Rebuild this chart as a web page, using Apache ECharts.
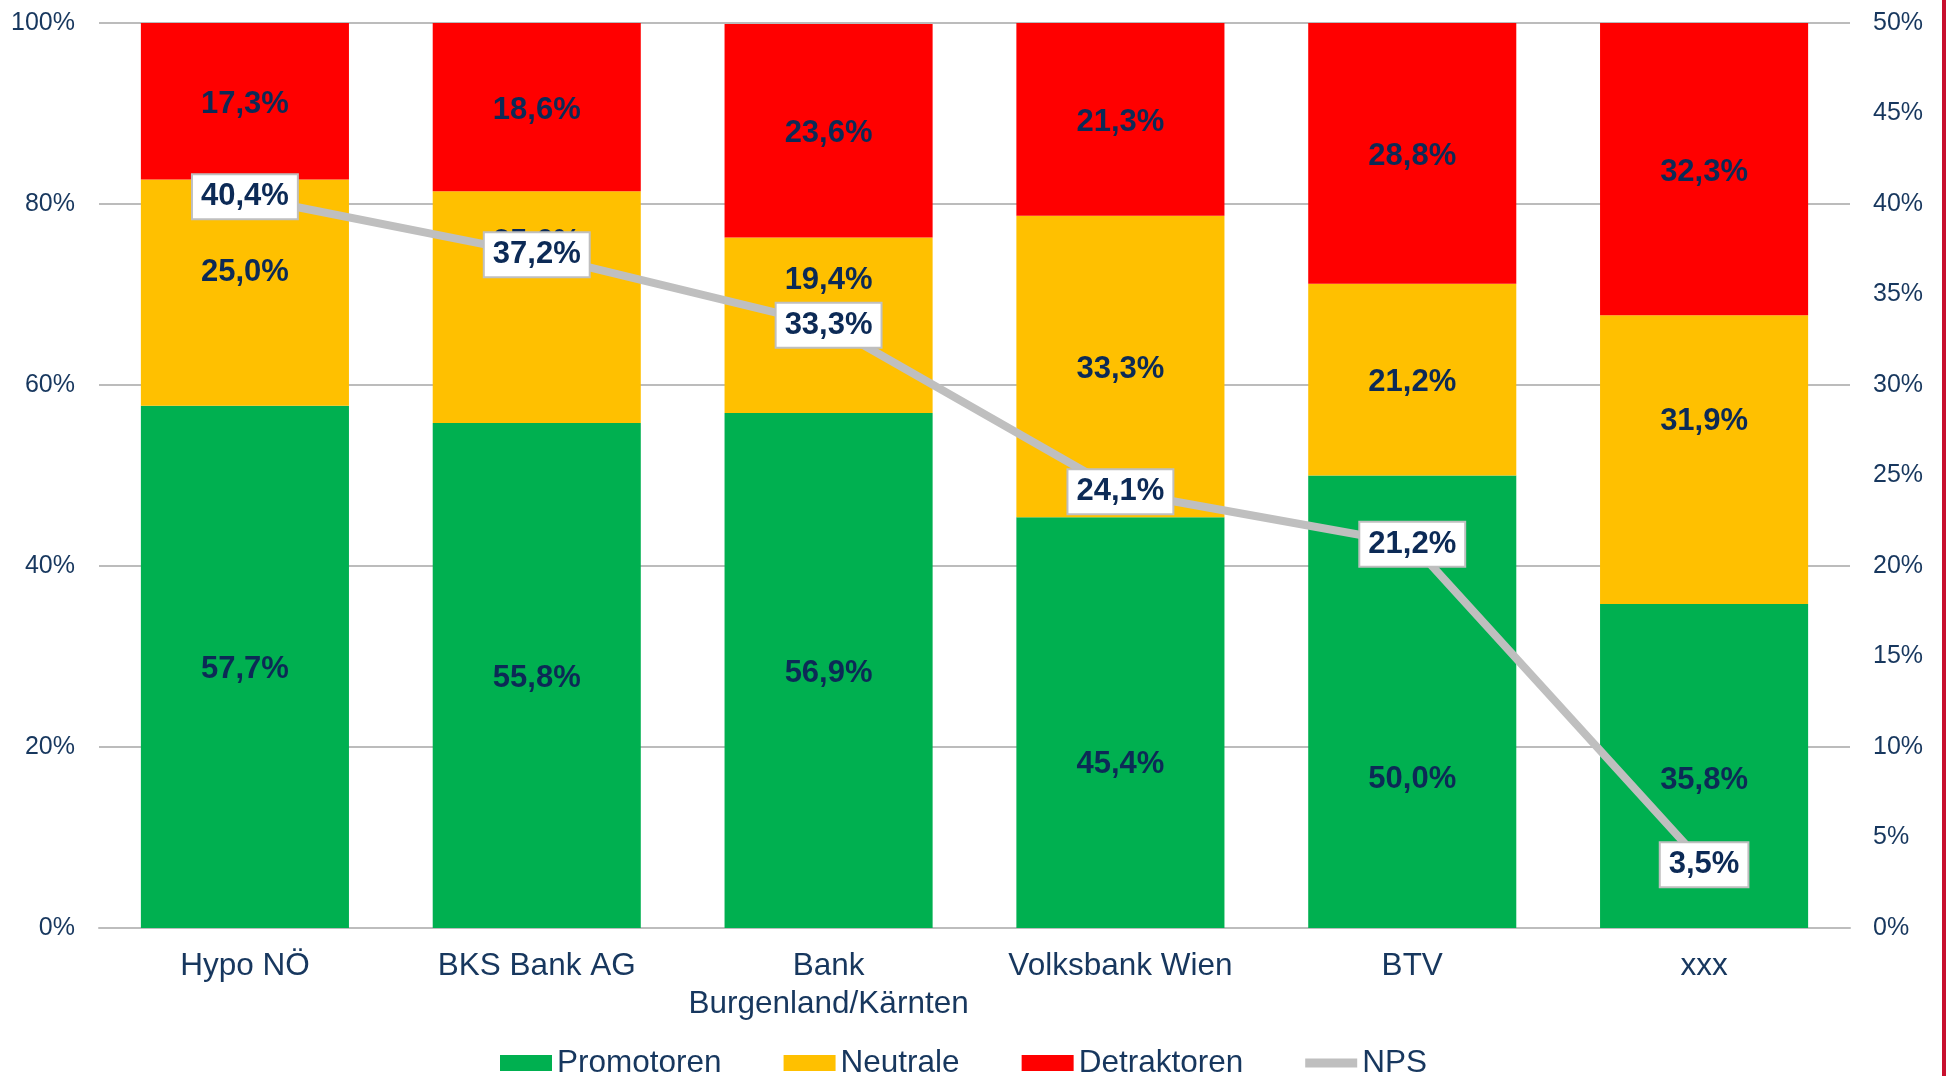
<!DOCTYPE html>
<html>
<head>
<meta charset="utf-8">
<script src="https://cdn.jsdelivr.net/npm/echarts@6/dist/echarts.min.js"></script>
<style>
  html, body { margin: 0; padding: 0; background: #fff; }
  #main { width: 1946px; height: 1076px; }
</style>
</head>
<body>
<div id="main"></div>
<script>
const categories = ['Hypo NÖ', 'BKS Bank AG', 'Bank\nBurgenland/Kärnten', 'Volksbank Wien', 'BTV', 'xxx'];
const promotoren = [57.7, 55.8, 56.9, 45.4, 50.0, 35.8];
const neutrale = [25.0, 25.6, 19.4, 33.3, 21.2, 31.9];
const detraktoren = [17.3, 18.6, 23.6, 21.3, 28.8, 32.3];
const nps = [40.4, 37.2, 33.3, 24.1, 21.2, 3.5];

const leftTicks = [0, 20, 40, 60, 80, 100];
const rightTicks = [0, 5, 10, 15, 20, 25, 30, 35, 40, 45, 50];

// labels that were nudged by hand in the original (vertical px shift)
const promotorenLabelShift = [0, 0, 0, 39, 75, 11];
const neutraleLabelShift = [-23, -68, -48, 0, 0, -41];
const detraktorenLabelShift = [0, 0, 0, 0, 0, 0];

const FONT = 'Liberation Sans, Arial, sans-serif';
const NAVY = '#17375E';
const LABEL_NAVY = '#0C2A56';

const pct = v => v.toFixed(1).replace('.', ',') + '%';

const barLabel = {
  show: true,
  position: 'inside',
  fontFamily: FONT,
  fontSize: 31,
  fontWeight: 'bold',
  color: LABEL_NAVY,
  formatter: p => pct(p.value)
};

function barSeries(name, data, shifts, color) {
  return {
    name: name,
    type: 'bar',
    stack: 'total',
    data: data.map((v, i) => ({ value: v, label: { offset: [0, shifts[i] + 3] } })),
    barCategoryGap: '28.7%',
    itemStyle: { color: color },
    label: barLabel,
    emphasis: { disabled: true }
  };
}

const chart = echarts.init(document.getElementById('main'), null, { renderer: 'canvas' });

chart.setOption({
  animation: false,
  backgroundColor: '#fff',
  textStyle: { fontFamily: FONT },
  grid: { left: 99, right: 96, top: 23, bottom: 148, containLabel: false },
  legend: {
    left: 495,
    top: 1042,
    itemWidth: 52,
    itemHeight: 16,
    itemGap: 62,
    textStyle: { fontFamily: FONT, fontSize: 31.5, color: NAVY },
    data: [
      { name: 'Promotoren', icon: 'rect' },
      { name: 'Neutrale', icon: 'rect' },
      { name: 'Detraktoren', icon: 'rect' },
      { name: 'NPS', icon: 'path://M0,0L52,0L52,9L0,9Z', itemStyle: { color: '#BFBFBF' } }
    ]
  },
  xAxis: {
    type: 'category',
    data: categories,
    axisTick: { show: false },
    axisLine: { lineStyle: { color: '#BDBDBD', width: 2 } },
    axisLabel: {
      margin: 19,
      fontFamily: FONT,
      fontSize: 31.5,
      lineHeight: 38,
      color: NAVY,
      interval: 0
    }
  },
  yAxis: [
    {
      type: 'value',
      min: leftTicks[0],
      max: leftTicks[leftTicks.length - 1],
      interval: 20,
      axisLabel: { formatter: '{value}%', fontFamily: FONT, fontSize: 25, color: NAVY, margin: 24 },
      splitLine: { lineStyle: { color: '#A6A6A6', width: 1.5 } },
      axisLine: { show: false },
      axisTick: { show: false }
    },
    {
      type: 'value',
      min: rightTicks[0],
      max: rightTicks[rightTicks.length - 1],
      interval: 5,
      position: 'right',
      axisLabel: { formatter: '{value}%', fontFamily: FONT, fontSize: 25, color: NAVY, margin: 23 },
      splitLine: { show: false },
      axisLine: { show: false },
      axisTick: { show: false }
    }
  ],
  series: [
    barSeries('Promotoren', promotoren, promotorenLabelShift, '#00B050'),
    barSeries('Neutrale', neutrale, neutraleLabelShift, '#FFC000'),
    barSeries('Detraktoren', detraktoren, detraktorenLabelShift, '#FF0000'),
    {
      name: 'NPS',
      type: 'line',
      yAxisIndex: 1,
      data: nps,
      symbol: 'circle',
      symbolSize: 1,
      showSymbol: true,
      z: 5,
      lineStyle: { color: '#BFBFBF', width: 8 },
      itemStyle: { color: '#BFBFBF' },
      label: {
        show: true,
        position: 'inside',
        fontFamily: FONT,
        fontSize: 31,
        fontWeight: 'bold',
        color: LABEL_NAVY,
        backgroundColor: '#fff',
        borderColor: '#BFBFBF',
        borderWidth: 2,
        padding: [8, 8, 4, 8],
        formatter: p => pct(p.value)
      },
      emphasis: { disabled: true }
    }
  ],
  graphic: [
    {
      type: 'rect',
      right: 0,
      top: 0,
      shape: { width: 4, height: 1076 },
      style: { fill: '#C8102E' }
    }
  ]
});
</script>
</body>
</html>
